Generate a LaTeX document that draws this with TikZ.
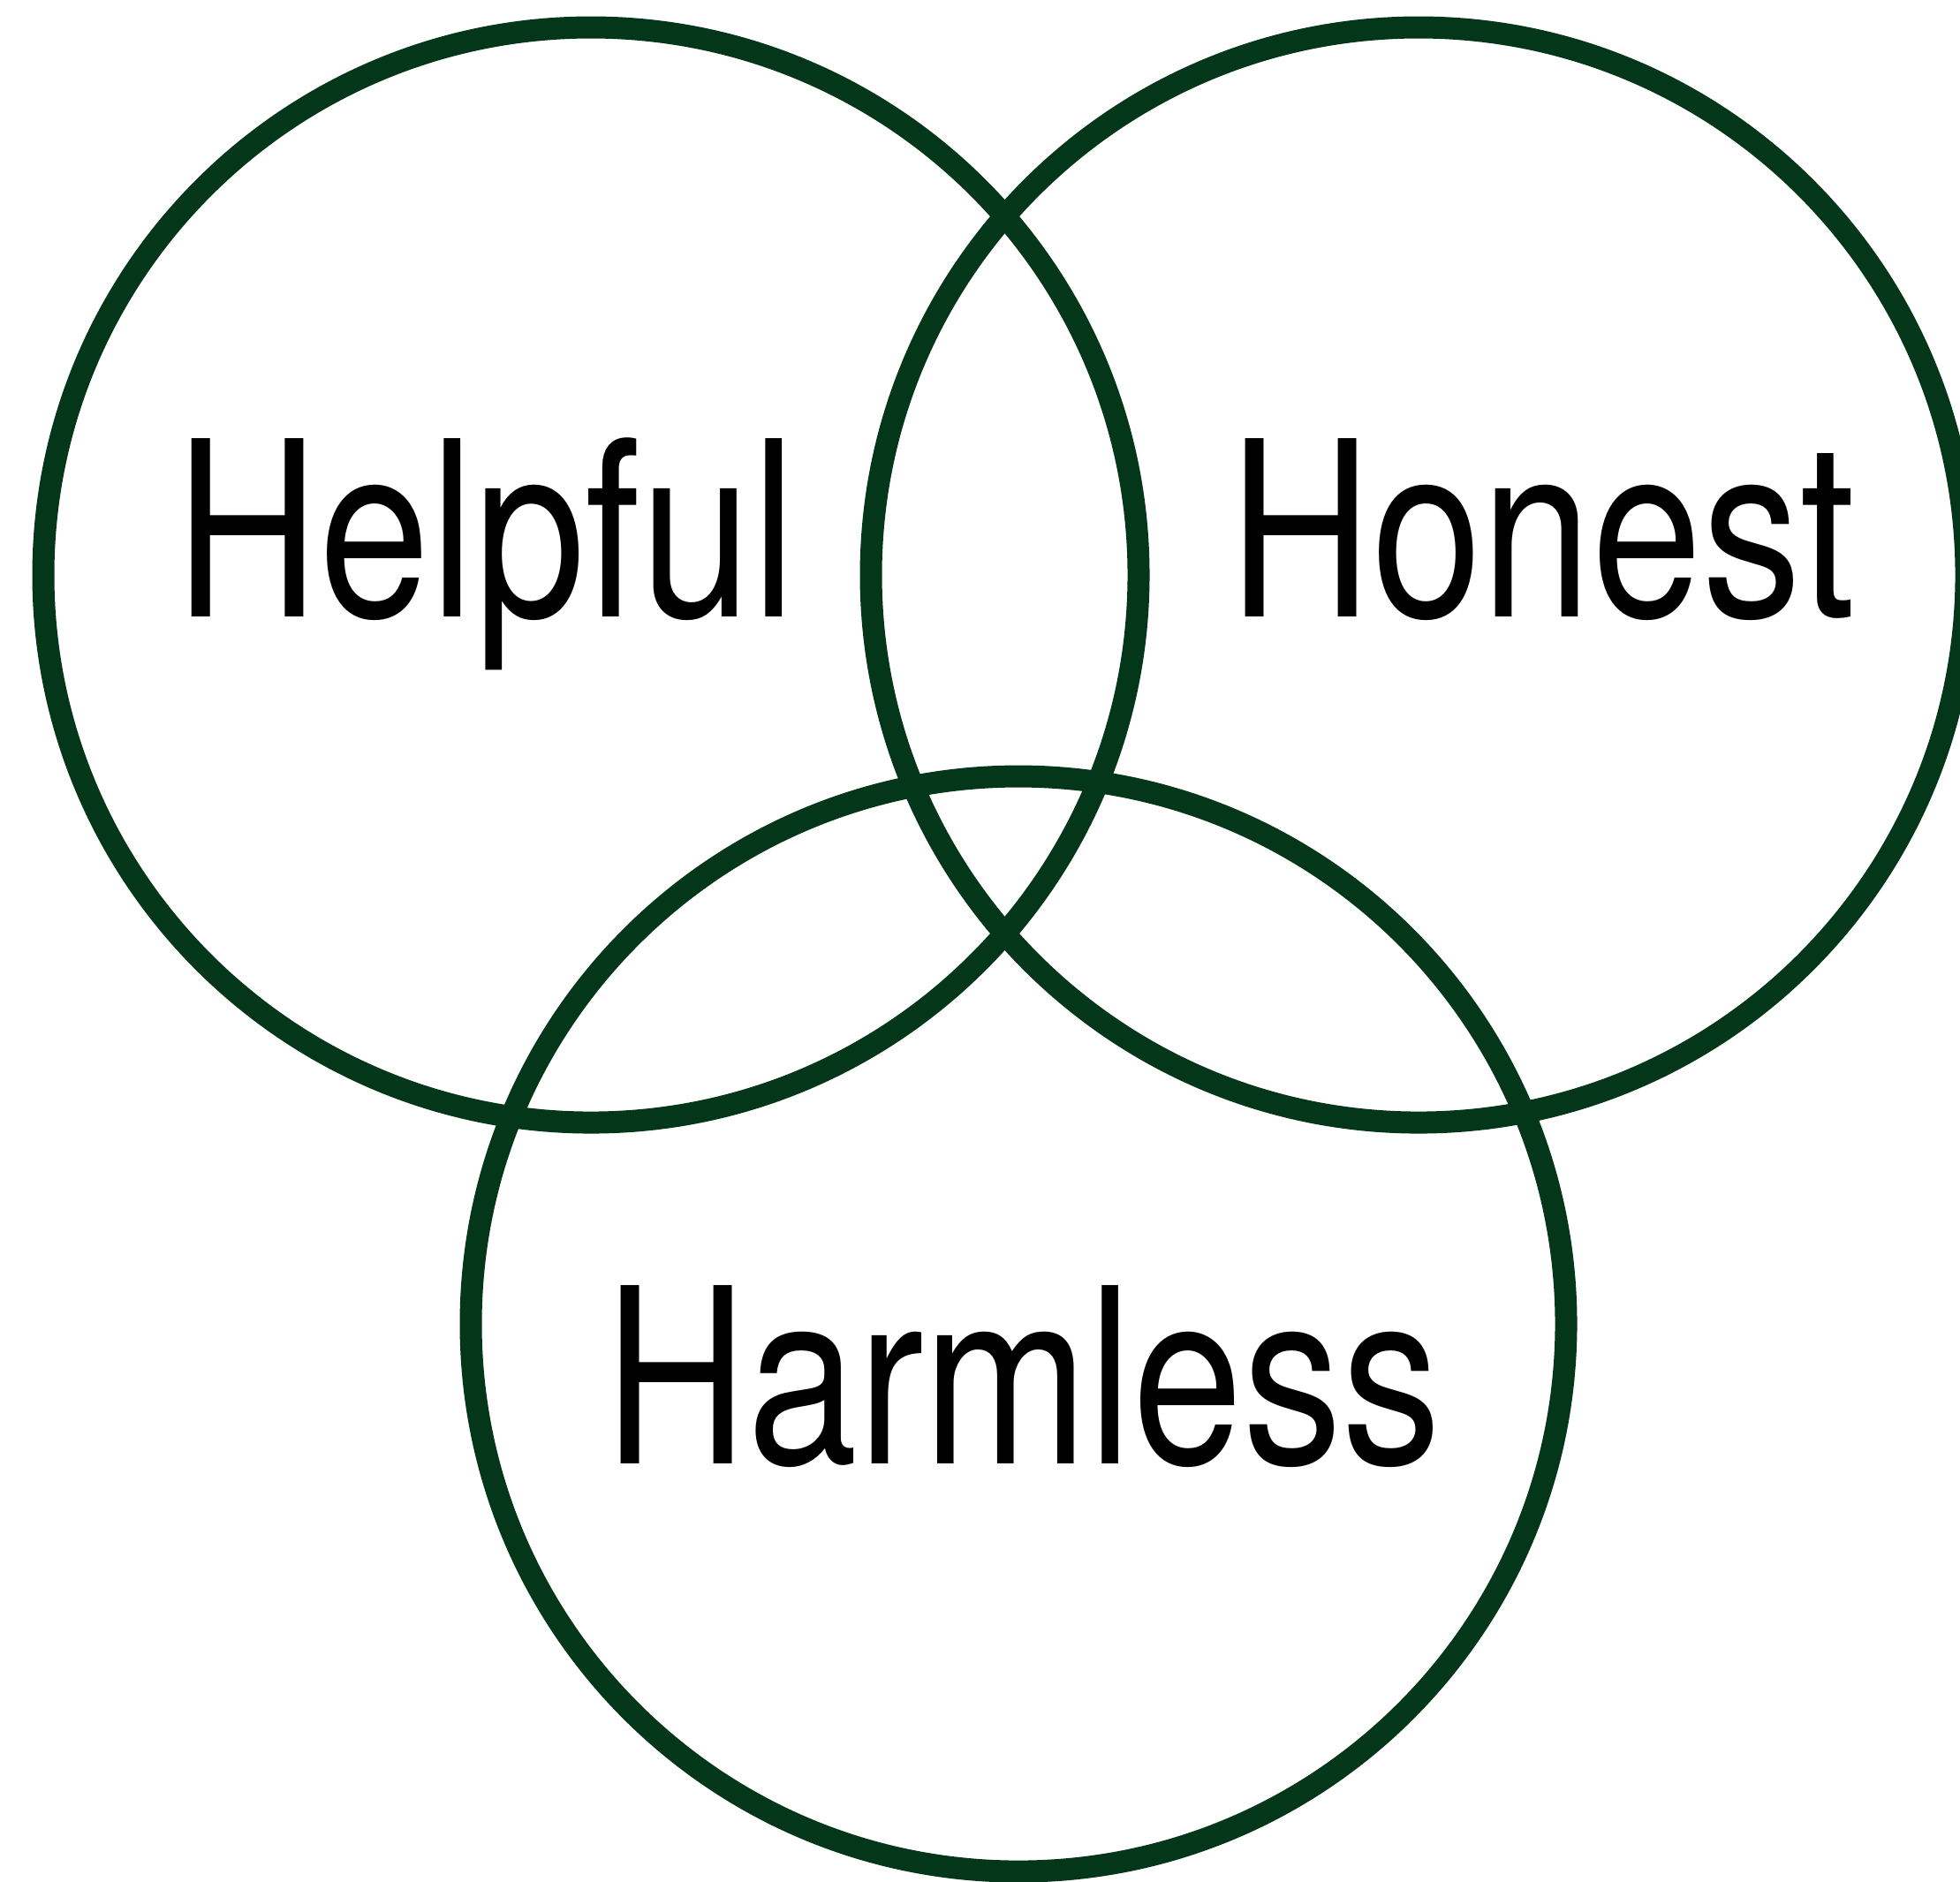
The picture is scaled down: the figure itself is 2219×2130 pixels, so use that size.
\documentclass[tikz,border=0pt]{standalone}
\usepackage{fontspec}
\setmainfont{TeX Gyre Heros}
\definecolor{ringgreen}{RGB}{4,55,26}
\begin{document}
\begin{tikzpicture}[x=0.1pt,y=-0.1pt,
  ring/.style={draw=ringgreen,line width=2.5pt},
  lbl/.style={anchor=base,inner sep=0pt,font=\fontsize{27.7}{30}\selectfont,text=black}]
\useasboundingbox (0,0) rectangle (2219,2130);
\fill[white] (0,0) rectangle (2219,2130);
\begin{scope}
\clip (0,0) rectangle (2219,2130);
\draw[ring] (669,651) circle[radius=620];
\draw[ring] (1606,651) circle[radius=620];
\draw[ring] (1153,1499) circle[radius=620];
\end{scope}
\node[lbl] (helpful) at (550,698) {\scalebox{0.815}[1]{Helpful}};
\node[lbl] (honest) at (1746,698) {\scalebox{0.81}[1]{Honest}};
\node[lbl] (harmless) at (1158,1657) {\scalebox{0.81}[1]{Harmless}};
\end{tikzpicture}
\end{document}
